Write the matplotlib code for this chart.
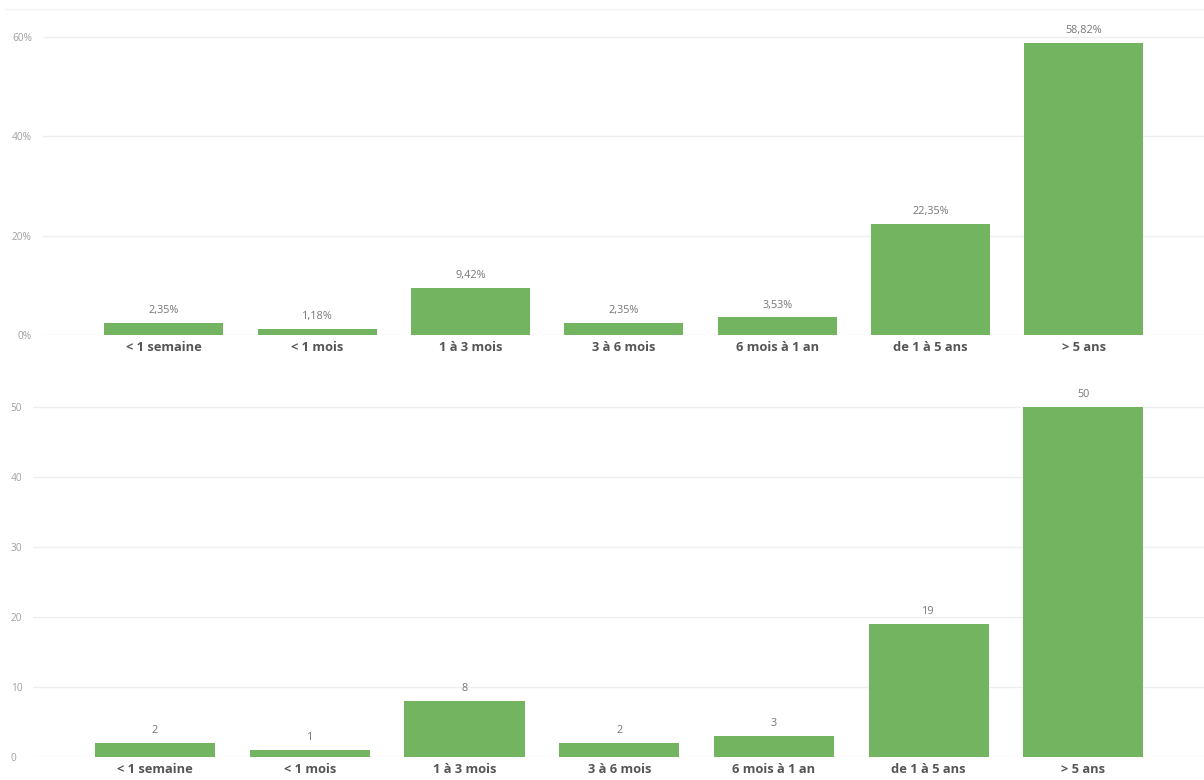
import numpy as np
import matplotlib.pyplot as plt
from matplotlib.lines import Line2D

categories = ['< 1 semaine', '< 1 mois', '1 à 3 mois', '3 à 6 mois',
              '6 mois à 1 an', 'de 1 à 5 ans', '> 5 ans']
pct_values = [2.35, 1.18, 9.42, 2.35, 3.53, 22.35, 58.82]
count_values = [2, 1, 8, 2, 3, 19, 50]
pct_ticks = [0, 20, 40, 60]
count_ticks = [0, 10, 20, 30, 40, 50]

BAR = '#73b460'
GRID = '#eeeeee'
TICK = '#a0a0a0'
CAT = '#555555'
VAL = '#777777'

plt.rcParams['font.family'] = ['Open Sans', 'DejaVu Sans']

W, H = 1204, 780
fig = plt.figure(figsize=(W / 100, H / 100), dpi=100)


def px_axes(left, top, right, bottom):
    return fig.add_axes([left / W, 1 - bottom / H, (right - left) / W, (bottom - top) / H])


def style(ax, ticks, fmt, ymax, xleft, xright):
    x = np.arange(len(categories))
    ax.set_xlim(xleft, xright)
    ax.set_ylim(0, ymax)
    ax.set_yticks(ticks)
    ax.set_yticklabels([fmt(t) for t in ticks])
    ax.set_xticks(x)
    ax.set_xticklabels(categories, fontsize=9.3, fontweight='bold', color=CAT)
    ax.tick_params(axis='both', length=0)
    ax.tick_params(axis='y', labelsize=7.3, labelcolor=TICK)
    ax.tick_params(axis='x', pad=4)
    for s in ax.spines.values():
        s.set_visible(False)
    ax.grid(axis='y', color=GRID, linewidth=1)
    ax.set_axisbelow(True)
    return x


# top chart: percentages
ax1 = px_axes(43, 9, 1204, 335)
x = style(ax1, pct_ticks, lambda t: f'{t}%', 65.6, -0.789, 6.784)
ax1.tick_params(axis='y', pad=8)
bars = ax1.bar(x, pct_values, width=0.776, color=BAR)
for b, v in zip(bars, pct_values):
    ax1.annotate(f'{v:.2f}%'.replace('.', ','), (b.get_x() + b.get_width() / 2, v),
                 xytext=(0, 5), textcoords='offset points', ha='center', va='bottom',
                 fontsize=7.8, color=VAL)

# bottom chart: counts
ax2 = px_axes(33, 400, 1204, 757)
x = style(ax2, count_ticks, lambda t: f'{t}', 51, -0.789, 6.78)
ax2.tick_params(axis='y', pad=16)
for lab in ax2.get_yticklabels():
    lab.set_horizontalalignment('left')
bars = ax2.bar(x, count_values, width=0.776, color=BAR)
for b, v in zip(bars, count_values):
    ax2.annotate(f'{v}', (b.get_x() + b.get_width() / 2, v),
                 xytext=(0, 5), textcoords='offset points', ha='center', va='bottom',
                 fontsize=7.8, color=VAL, annotation_clip=False)

# faint separator at the very top
fig.add_artist(Line2D([5 / W, 1], [1 - 9 / H, 1 - 9 / H], color='#f3f3f3', linewidth=1))

fig.savefig('out.png', dpi=100)
